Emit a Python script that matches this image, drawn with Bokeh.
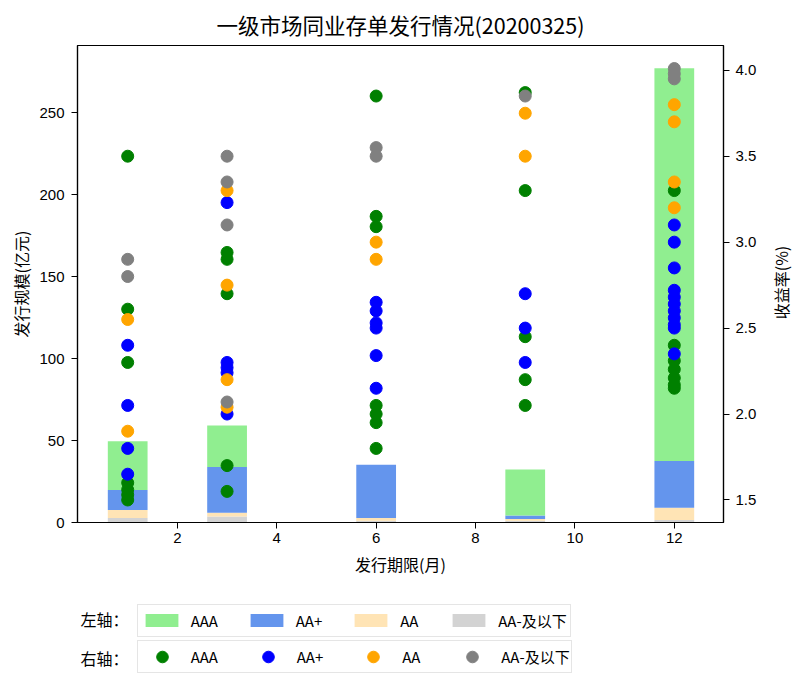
import math
from bokeh.plotting import figure
from bokeh.layouts import column, row
from bokeh.models import (Range1d, LinearAxis, Legend, LegendItem, Label,
                          FixedTicker, ColumnDataSource, PrintfTickFormatter)
from bokeh.embed import file_html
from bokeh.resources import INLINE

# ---------------- data ----------------
title_text = "一级市场同业存单发行情况(20200325)"
terms = [1, 3, 6, 9, 12]                       # 发行期限(月)
ratings = ["AAA", "AA+", "AA", "AA-及以下"]

# 发行规模(亿元) by rating
amt_aaa = [29.8, 25.2, 0.0, 28.1, 239.6]
amt_aap = [12.1, 27.9, 32.6, 2.0, 28.5]
amt_aa = [5.0, 2.4, 1.7, 1.2, 7.5]
amt_aam = [2.7, 3.6, 1.0, 1.0, 1.5]

# 收益率(%) points
aaa_term = [1, 1, 1, 1, 1, 1, 1, 3, 3, 3, 3, 3, 6, 6, 6, 6, 6, 6, 6,
            9, 9, 9, 9, 9, 12, 12, 12, 12, 12, 12, 12]
aaa_yield = [3.50, 2.61, 2.30, 1.60, 1.56, 1.53, 1.50,
             2.94, 2.90, 2.70, 1.70, 1.55,
             3.85, 3.15, 3.09, 2.05, 2.00, 1.95, 1.80,
             3.87, 3.30, 2.45, 2.20, 2.05,
             3.30, 2.40, 2.31, 2.26, 2.21, 2.17, 2.15]

aap_term = [1, 1, 1, 1, 3, 3, 3, 3, 3, 6, 6, 6, 6, 6, 6, 9, 9, 9,
            12, 12, 12, 12, 12, 12, 12, 12, 12, 12, 12]
aap_yield = [2.40, 2.05, 1.80, 1.65,
             3.23, 2.30, 2.27, 2.24, 2.00,
             2.65, 2.60, 2.53, 2.50, 2.34, 2.15,
             2.70, 2.50, 2.30,
             3.10, 3.00, 2.85, 2.72, 2.68, 2.64, 2.60, 2.56, 2.52, 2.50, 2.35]

aa_term = [1, 1, 3, 3, 3, 3, 6, 6, 9, 9, 12, 12, 12, 12]
aa_yield = [2.55, 1.90, 3.30, 2.75, 2.20, 2.04, 3.00, 2.90,
            3.75, 3.50, 3.80, 3.70, 3.35, 3.20]

aam_term = [1, 1, 3, 3, 3, 3, 6, 6, 9, 12, 12, 12]
aam_yield = [2.90, 2.80, 3.50, 3.35, 3.10, 2.07, 3.55, 3.50,
             3.85, 4.01, 3.98, 3.95]

left_ticks = [0, 50, 100, 150, 200, 250]
right_ticks = [1.5, 2.0, 2.5, 3.0, 3.5, 4.0]
x_ticks = [2, 4, 6, 8, 10, 12]

bar_colors = ["#90EE90", "#6495ED", "#FFE4B5", "#D3D3D3"]
dot_colors = ["#008000", "#0000FF", "#FFA500", "#808080"]

CJK = "Noto Sans CJK SC"
NUM = "Liberation Sans"

dot_series = [(aaa_term, aaa_yield), (aap_term, aap_yield),
              (aa_term, aa_yield), (aam_term, aam_yield)]

# ---------------- main figure ----------------
p = figure(width=770, height=590, output_backend="svg", toolbar_location=None,
           x_range=Range1d(-0.01, 12.99), y_range=Range1d(0, 290.96),
           min_border_left=77, min_border_right=47, min_border_top=42,
           min_border_bottom=68)
p.extra_y_ranges = {"right": Range1d(1.369, 4.144)}

p.title.text = title_text
p.title.align = "center"
p.title.text_font = CJK
p.title.text_font_size = "21.5px"
p.title.text_font_style = "normal"
p.title.text_color = "black"
p.title.standoff = 12

p.xgrid.visible = False
p.ygrid.visible = False
p.outline_line_color = "black"
p.outline_line_width = 1.2
p.background_fill_color = "white"
p.border_fill_color = "white"

src = ColumnDataSource(dict(term=terms, aam=amt_aam, aa=amt_aa, aap=amt_aap, aaa=amt_aaa))
stack_cols = ["aam", "aa", "aap", "aaa"]
stack_colors = [bar_colors[3], bar_colors[2], bar_colors[1], bar_colors[0]]
p.vbar_stack(stack_cols, x="term", width=0.8, source=src, color=stack_colors, line_width=0)

for (xs, ys), c in zip(dot_series, dot_colors):
    p.scatter(xs, ys, size=12, fill_color=c, line_color=c, y_range_name="right")

right_axis = LinearAxis(y_range_name="right")
p.add_layout(right_axis, "right")

for ax in [p.xaxis[0], p.yaxis[0], right_axis]:
    ax.major_tick_out = 6
    ax.major_tick_in = 0
    ax.minor_tick_out = 0
    ax.minor_tick_in = 0
    ax.axis_line_color = "black"
    ax.axis_line_width = 1.2
    ax.major_tick_line_color = "black"
    ax.major_label_text_font = NUM
    ax.major_label_text_font_size = "15px"
    ax.major_label_text_color = "black"
    ax.axis_label_text_font = CJK
    ax.axis_label_text_font_size = "16px"
    ax.axis_label_text_font_style = "normal"
    ax.axis_label_text_color = "black"

p.xaxis.ticker = FixedTicker(ticks=x_ticks)
p.xaxis.axis_label = "发行期限(月)"
p.xaxis.major_label_standoff = 4
p.xaxis.axis_label_standoff = 6
p.yaxis[0].ticker = FixedTicker(ticks=left_ticks)
p.yaxis[0].axis_label = "发行规模(亿元)"
p.yaxis[0].major_label_standoff = 7
p.yaxis[0].axis_label_standoff = 3
right_axis.ticker = FixedTicker(ticks=right_ticks)
right_axis.formatter = PrintfTickFormatter(format="%.1f")
right_axis.major_label_standoff = 6

# ---------------- right-axis title strip ----------------
r = figure(width=30, height=590, output_backend="svg", toolbar_location=None,
           x_range=Range1d(0, 1), y_range=Range1d(0, 1),
           x_axis_location=None, y_axis_location=None,
           min_border_left=0, min_border_right=0, min_border_top=42, min_border_bottom=68)
r.xgrid.visible = False
r.ygrid.visible = False
r.outline_line_color = None
r.background_fill_color = "white"
r.border_fill_color = "white"
r.add_layout(Label(x=10, y=240, x_units="screen", y_units="screen", text="收益率(%)",
                   angle=math.pi / 2, text_align="center", text_baseline="middle",
                   text_font=CJK, text_font_size="16px", text_color="black"))

# ---------------- legend strip ----------------
# legend keys: same data drawn into a strip whose ranges show none of it
q = figure(width=800, height=94, output_backend="svg", toolbar_location=None,
           x_range=Range1d(-200, -100), y_range=Range1d(-200, -100),
           x_axis_location=None, y_axis_location=None,
           min_border_left=77, min_border_right=0, min_border_top=0, min_border_bottom=0)
q.xgrid.visible = False
q.ygrid.visible = False
q.outline_line_color = None
q.background_fill_color = "white"
q.border_fill_color = "white"

bar_keys = q.vbar_stack(stack_cols, x="term", width=0.8, source=src,
                        color=stack_colors, line_width=0)
bar_keys = [bar_keys[3], bar_keys[2], bar_keys[1], bar_keys[0]]
dot_keys = [q.scatter(xs, ys, size=12, fill_color=c, line_color=c)
            for (xs, ys), c in zip(dot_series, dot_colors)]

leg_style = dict(orientation="horizontal", margin=0, label_text_font=CJK,
                 label_text_font_size="15px", label_text_color="black",
                 border_line_color="#cccccc", border_line_width=1.2,
                 background_fill_color="white", background_fill_alpha=1.0)
leg1 = Legend(items=[LegendItem(label=ratings[i], renderers=[bar_keys[i]]) for i in range(4)],
              location=(59.7, 47.5), padding=3, glyph_width=41, glyph_height=16,
              label_height=25, label_standoff=9, spacing=28, **leg_style)
leg2 = Legend(items=[LegendItem(label=ratings[i], renderers=[dot_keys[i]]) for i in range(4)],
              location=(59.7, 11.3), padding=1, glyph_width=46, glyph_height=29,
              label_height=29, label_standoff=6, spacing=27, **leg_style)
q.add_layout(leg1)
q.add_layout(leg2)

for txt, yy in [("左轴：", 65.3), ("右轴：", 26.8)]:
    q.add_layout(Label(x=3, y=yy, x_units="screen", y_units="screen", text=txt,
                       text_baseline="middle", text_font=CJK, text_font_size="16px",
                       text_color="black"))

layout = column(row(p, r, spacing=0), q, spacing=0)
open("out.html", "w").write(file_html(layout, INLINE))
